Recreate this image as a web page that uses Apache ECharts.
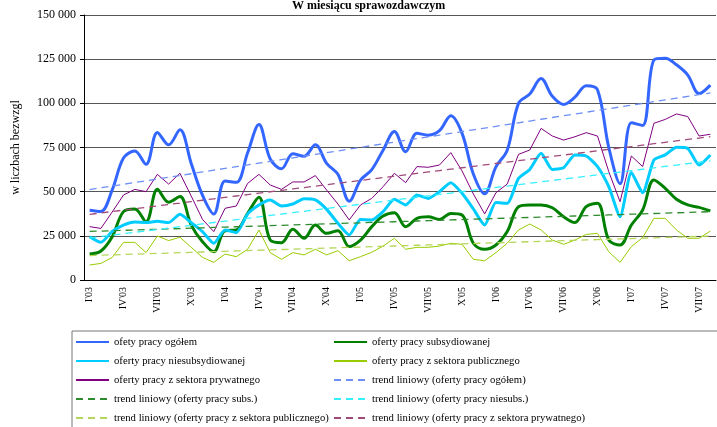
<!DOCTYPE html>
<html>
<head>
<meta charset="utf-8">
<script src="https://cdn.jsdelivr.net/npm/echarts@6/dist/echarts.min.js"></script>
<style>
html, body { margin: 0; padding: 0; background: #fff; }
#chart { width: 717px; height: 427px; }
</style>
</head>
<body>
<div id="chart"></div>
<script>
// miesiace I'03 .. VIII'07
var categories = [
	"I'03", "II'03", "III'03", "IV'03", "V'03", "VI'03", "VII'03", "VIII'03", "IX'03", "X'03", "XI'03", "XII'03",
	"I'04", "II'04", "III'04", "IV'04", "V'04", "VI'04", "VII'04", "VIII'04", "IX'04", "X'04", "XI'04", "XII'04",
	"I'05", "II'05", "III'05", "IV'05", "V'05", "VI'05", "VII'05", "VIII'05", "IX'05", "X'05", "XI'05", "XII'05",
	"I'06", "II'06", "III'06", "IV'06", "V'06", "VI'06", "VII'06", "VIII'06", "IX'06", "X'06", "XI'06", "XII'06",
	"I'07", "II'07", "III'07", "IV'07", "V'07", "VI'07", "VII'07", "VIII'07"
];

var yTicks = [0, 25000, 50000, 75000, 100000, 125000, 150000];

var ogolem = [39500, 38800, 51000, 69000, 73000, 65500, 83500, 76500, 85000, 66000, 48000, 37400,
	56000, 55300, 72000, 88000, 68500, 63000, 71500, 70000, 76500, 66000, 59800, 44600,
	56500, 62500, 73500, 84000, 72600, 83000, 82000, 84500, 93000, 83000, 60000, 48800,
	64000, 73500, 100000, 105300, 114000, 104000, 99400, 103500, 110000, 107700, 75000, 54500,
	89000, 87500, 124500, 125500, 121800, 116000, 105500, 110300];

var subs = [14700, 16400, 24500, 38700, 40200, 33000, 51300, 44000, 47200, 31100, 21700, 16000,
	27900, 28300, 37700, 46800, 22600, 21100, 28700, 23600, 31100, 26400, 27900, 18900,
	22600, 30200, 36200, 38100, 30200, 34900, 35800, 34300, 37700, 36800, 20800, 17400,
	19800, 27400, 41500, 42500, 42500, 40900, 35800, 32500, 41500, 43400, 22600, 19800,
	31100, 39600, 56600, 51900, 45700, 42500, 41100, 39100];

var niesubs = [24500, 21300, 27500, 31100, 32800, 32500, 33200, 32500, 37200, 32500, 27400, 20800,
	28300, 26800, 37400, 42500, 45300, 41900, 43000, 46000, 45300, 40000, 32100, 25500,
	34300, 34000, 38700, 45700, 42500, 48100, 46200, 50000, 55100, 49100, 40200, 31100,
	43800, 43400, 57500, 62600, 71700, 62600, 63600, 70800, 70200, 64200, 52800, 35800,
	60800, 49400, 67900, 70800, 75100, 74500, 65100, 70800];

var publiczny = [8500, 9400, 12800, 21300, 21300, 15500, 24900, 22300, 24200, 18500, 12800, 10000,
	14700, 13200, 17400, 28300, 15500, 11700, 15500, 14200, 17400, 14200, 16600, 10900,
	13200, 15700, 19200, 23600, 17400, 18500, 18500, 19200, 20800, 20200, 11700, 10900,
	15500, 20800, 28300, 31700, 28300, 22600, 20200, 22600, 25800, 26400, 16000, 10000,
	18900, 24000, 34900, 34900, 28300, 23600, 23600, 27700];

var prywatny = [30200, 29200, 38500, 48100, 51300, 50000, 59800, 54300, 60400, 47500, 34300, 27400,
	40600, 41900, 54700, 59800, 53800, 51300, 55500, 55500, 59100, 50900, 43000, 34000,
	42500, 46200, 52800, 60400, 55100, 64200, 63800, 65100, 72100, 61700, 48700, 37400,
	49400, 54300, 71100, 73600, 85800, 81500, 79200, 81100, 83400, 81500, 61300, 44300,
	70200, 64200, 88700, 90900, 94000, 92500, 81500, 82500];

// trend liniowy (najmniejsze kwadraty)
function trend(arr) {
	var n = arr.length, sx = 0, sy = 0, sxx = 0, sxy = 0;
	for (var i = 0; i < n; i++) {
		sx += i; sy += arr[i]; sxx += i * i; sxy += i * arr[i];
	}
	var b = (n * sxy - sx * sy) / (n * sxx - sx * sx);
	var a = (sy - b * sx) / n;
	return arr.map(function(v, i) { return Math.round(a + b * i); });
}

var FONT = '"Liberation Serif", "DejaVu Serif", serif';

function mainLine(name, data, color, width, smooth) {
	return {
		name: name, type: 'line', data: data, symbol: 'none', smooth: smooth,
		lineStyle: { color: color, width: width }, itemStyle: { color: color }
	};
}
function trendLine(name, data, color) {
	return {
		name: name, type: 'line', data: trend(data), symbol: 'none', z: 3,
		lineStyle: { color: color, width: 1.3, type: [7, 5] }, itemStyle: { color: color }
	};
}

function legendCol(left, names) {
	return {
		orient: 'vertical', left: left, top: 335, padding: 0,
		itemWidth: 33, itemHeight: 14, itemGap: 5,
		itemStyle: { color: 'transparent', borderWidth: 0, opacity: 0 },
		textStyle: { fontFamily: FONT, fontSize: 10.7, color: '#000', lineHeight: 14 },
		data: names
	};
}

var chart = echarts.init(document.getElementById('chart'));
chart.setOption({
	animation: false,
	backgroundColor: '#fff',
	textStyle: { fontFamily: FONT },
	title: {
		text: 'W miesiącu sprawozdawczym',
		left: 292, top: 0, padding: 0,
		textStyle: { fontFamily: FONT, fontSize: 12, fontWeight: 'bold', color: '#000' }
	},
	grid: { left: 84, right: 1, top: 15, bottom: 147 },
	graphic: [{
		type: 'rect', shape: { x: 72, y: 331, width: 700, height: 120 },
		style: { fill: 'none', stroke: '#777', lineWidth: 1 }, silent: true
	}],
	legend: [
		legendCol(75, ['ofety pracy ogółem', 'oferty pracy niesubsydiowanej', 'oferty pracy z sektora prywatnego',
			'trend liniowy (oferty pracy subs.)', 'trend liniowy (oferty pracy z sektora publicznego)']),
		legendCol(333, ['oferty pracy subsydiowanej', 'oferty pracy z sektora publicznego', 'trend liniowy (oferty pracy ogółem)',
			'trend liniowy (oferty pracy niesubs.)', 'trend liniowy (oferty pracy z sektora prywatnego)'])
	],
	xAxis: {
		type: 'category', data: categories, boundaryGap: true,
		axisLine: { lineStyle: { color: '#000', width: 1 } },
		axisTick: { interval: 0, length: 4, lineStyle: { color: '#000' } },
		axisLabel: { interval: 2, rotate: 90, margin: 7, fontFamily: FONT, fontSize: 10, color: '#000' },
		splitLine: { show: false }
	},
	yAxis: {
		type: 'value', min: yTicks[0], max: yTicks[yTicks.length - 1], interval: 25000,
		name: 'w liczbach bezwzgl', nameLocation: 'middle', nameGap: 62, nameRotate: 90,
		nameTextStyle: { fontFamily: FONT, fontSize: 12, color: '#000' },
		axisLine: { show: true, lineStyle: { color: '#000', width: 1 } },
		axisTick: { show: true, length: 4, lineStyle: { color: '#000' } },
		axisLabel: {
			margin: 8, fontFamily: FONT, fontSize: 12, color: '#000',
			formatter: function(v) { return v === 0 ? '0' : (v / 1000) + ' 000'; }
		},
		splitLine: { lineStyle: { color: '#555', width: 1 } }
	},
	series: [
		mainLine('ofety pracy ogółem', ogolem, '#3366FF', 3, 0.35),
		mainLine('oferty pracy subsydiowanej', subs, '#008000', 3, 0.35),
		mainLine('oferty pracy niesubsydiowanej', niesubs, '#00CCFF', 3, 0.2),
		mainLine('oferty pracy z sektora publicznego', publiczny, '#99CC00', 1, false),
		mainLine('oferty pracy z sektora prywatnego', prywatny, '#800080', 1, false),
		trendLine('trend liniowy (oferty pracy ogółem)', ogolem, '#6E8FF5'),
		trendLine('trend liniowy (oferty pracy subs.)', subs, '#2E8B2E'),
		trendLine('trend liniowy (oferty pracy niesubs.)', niesubs, '#33F0FF'),
		trendLine('trend liniowy (oferty pracy z sektora publicznego)', publiczny, '#B5D65A'),
		trendLine('trend liniowy (oferty pracy z sektora prywatnego)', prywatny, '#A04A7A')
	]
});
</script>
</body>
</html>
